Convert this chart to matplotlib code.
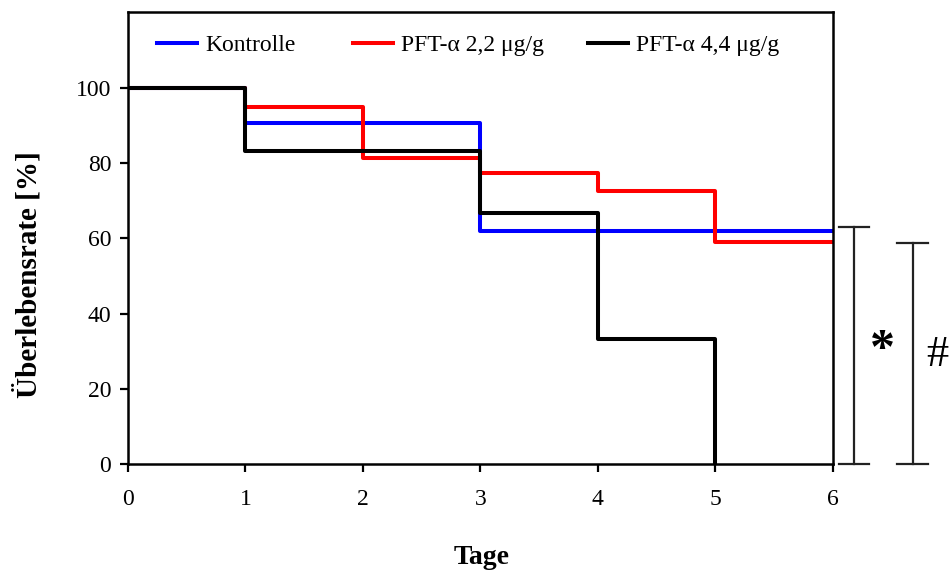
import matplotlib.pyplot as plt
from matplotlib.legend import Legend

days = [0, 1, 2, 3, 4, 5, 6]
kontrolle = [100, 90.7, 90.7, 62, 62, 62, 62]
pft_22 = [100, 95, 81.5, 77.5, 72.5, 59, 59]
days_44 = [0, 1, 2, 3, 4, 5]
pft_44 = [100, 83.3, 83.3, 66.7, 33.3, 0]

labels = ['Kontrolle', 'PFT-α 2,2 μg/g', 'PFT-α 4,4 μg/g']
colors = ['#0000ff', '#ff0000', '#000000']

plt.rcParams['font.family'] = ['Liberation Serif', 'DejaVu Serif']

fig = plt.figure(figsize=(9.5, 5.72), dpi=100)
ax = fig.add_axes([0.1347, 0.1888, 0.742, 0.790])

#--step curves--#
l1, = ax.step(days, kontrolle, where='post', color=colors[0], lw=2.9)
l2, = ax.step(days, pft_22, where='post', color=colors[1], lw=2.9)
l3, = ax.step(days_44, pft_44, where='post', color=colors[2], lw=2.9)

ax.set_xlim(0, 6)
ax.set_ylim(0, 120.2)
ax.set_xticks(days)
ax.set_yticks([0, 20, 40, 60, 80, 100])
ax.tick_params(direction='out', length=6, width=1.6, labelsize=17)
ax.tick_params(axis='x', pad=12)
ax.tick_params(axis='y', pad=6)
for s in ax.spines.values():
    s.set_linewidth(1.8)

fig.text(482 / 950, 1 - 557 / 572, 'Tage', fontsize=20, fontweight='bold', ha='center', va='center')
fig.text(28 / 950, 1 - 275 / 572, 'Überlebensrate [%]', fontsize=21, fontweight='bold',
         rotation=90, ha='center', va='center')

#--legend, one entry each--#
for line, lab, xa in [(l1, labels[0], 0.041), (l2, labels[1], 0.319), (l3, labels[2], 0.652)]:
    lg = Legend(ax, [line], [lab], loc='center left', bbox_to_anchor=(xa, 0.927), frameon=False,
                fontsize=17, handlelength=1.7, handletextpad=0.35, borderpad=0, borderaxespad=0)
    ax.add_artist(lg)

#--significance brackets--#
for x, top, sym, dx, fs, ys in [(6.18, 63, '*', 0.24, 36, 30), (6.68, 58.8, '#', 0.21, 32, 29)]:
    ax.plot([x, x], [0, top], color='#222222', lw=1.6, clip_on=False)
    ax.plot([x - 0.13, x + 0.13], [top, top], color='#222222', lw=1.6, clip_on=False)
    ax.plot([x - 0.13, x + 0.13], [0, 0], color='#222222', lw=1.6, clip_on=False)
    ax.text(x + dx, ys, sym, fontsize=fs, ha='center', va='center',
            fontweight='bold' if sym == '*' else 'normal', clip_on=False)

fig.savefig('out.png', dpi=100)
